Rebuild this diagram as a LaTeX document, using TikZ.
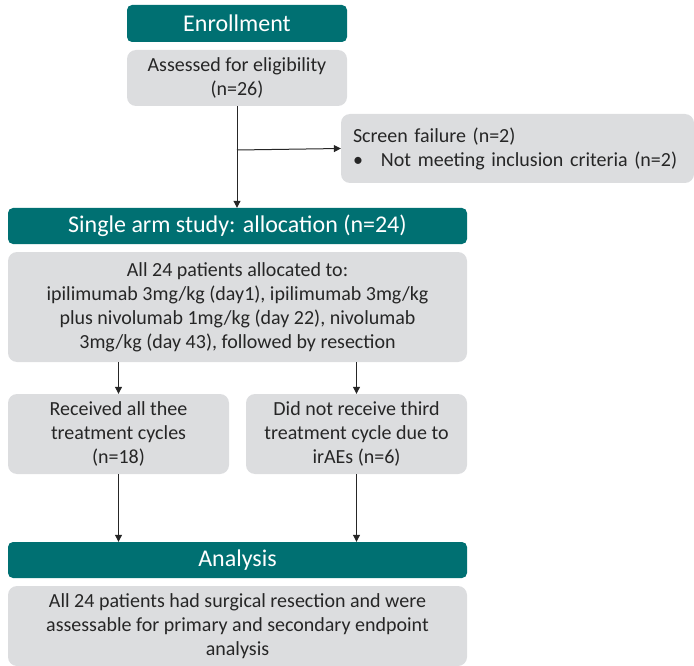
\documentclass[tikz,border=0pt]{standalone}
\usepackage{fontspec}
\setmainfont{Carlito}
\usetikzlibrary{arrows.meta}
\definecolor{headteal}{RGB}{0,112,114}
\definecolor{boxgray}{RGB}{220,221,223}
\begin{document}
\begin{tikzpicture}[x=1pt, y=-1pt,
  head/.style = {shape=rectangle, fill=headteal, text=white,
    rounded corners=5pt, inner sep=0pt, align=center,
    font=\fontsize{24}{28}\selectfont},
  info/.style = {shape=rectangle, fill=boxgray, text=black!85,
    rounded corners=9pt, inner sep=0pt, align=center,
    font=\fontsize{20}{24}\selectfont},
  flow/.style = {draw=black!85, line width=1pt,
    -{Triangle[length=7pt,width=7pt]}}]
  \useasboundingbox (0,0) rectangle (694,666);
  % enrollment
  \node[head, minimum width=220, minimum height=37] (enrol) at (237,23.5) {Enrollment};
  \node[info, minimum width=220, minimum height=56] (assess) at (237,78)
    {Assessed for eligibility\\(n=26)};
  \node[info, minimum width=353, minimum height=69, align=left,
    inner xsep=12pt, text width=329] (screen) at (517.5,148.5)
    {Screen failure (n=2)\\\mbox{\makebox[28pt][l]{\textbullet}Not meeting inclusion criteria (n=2)}};
  % allocation
  \node[head, minimum width=459, minimum height=36] (alloc) at (237.5,226)
    {Single arm study: allocation (n=24)};
  \node[info, minimum width=459, minimum height=110] (treat) at (237.5,307)
    {All 24 patients allocated to:\\ipilimumab 3mg/kg (day1), ipilimumab 3mg/kg\\
     plus nivolumab 1mg/kg (day 22), nivolumab\\3mg/kg (day 43), followed by resection};
  \node[info, minimum width=221, minimum height=80] (allcyc) at (118.5,434)
    {Received all thee\\treatment cycles\\(n=18)};
  \node[info, minimum width=221, minimum height=80] (notcyc) at (356.5,434)
    {Did not receive third\\treatment cycle due to\\irAEs (n=6)};
  % analysis
  \node[head, minimum width=459, minimum height=36] (analysis) at (237.5,560) {Analysis};
  \node[info, minimum width=459, minimum height=80] (result) at (237.5,626)
    {All 24 patients had surgical resection and were\\assessable for primary and secondary endpoint\\analysis};
  % connectors
  \coordinate (split) at (237,150);
  \draw[flow] (assess.south) -- (alloc.north -| assess.south);
  \draw[flow] (split) -- (screen.west);
  \draw[flow] (treat.south -| allcyc.north) -- (allcyc.north);
  \draw[flow] (treat.south -| notcyc.north) -- (notcyc.north);
  \draw[flow] (allcyc.south) -- (analysis.north -| allcyc.south);
  \draw[flow] (notcyc.south) -- (analysis.north -| notcyc.south);
\end{tikzpicture}
\end{document}
